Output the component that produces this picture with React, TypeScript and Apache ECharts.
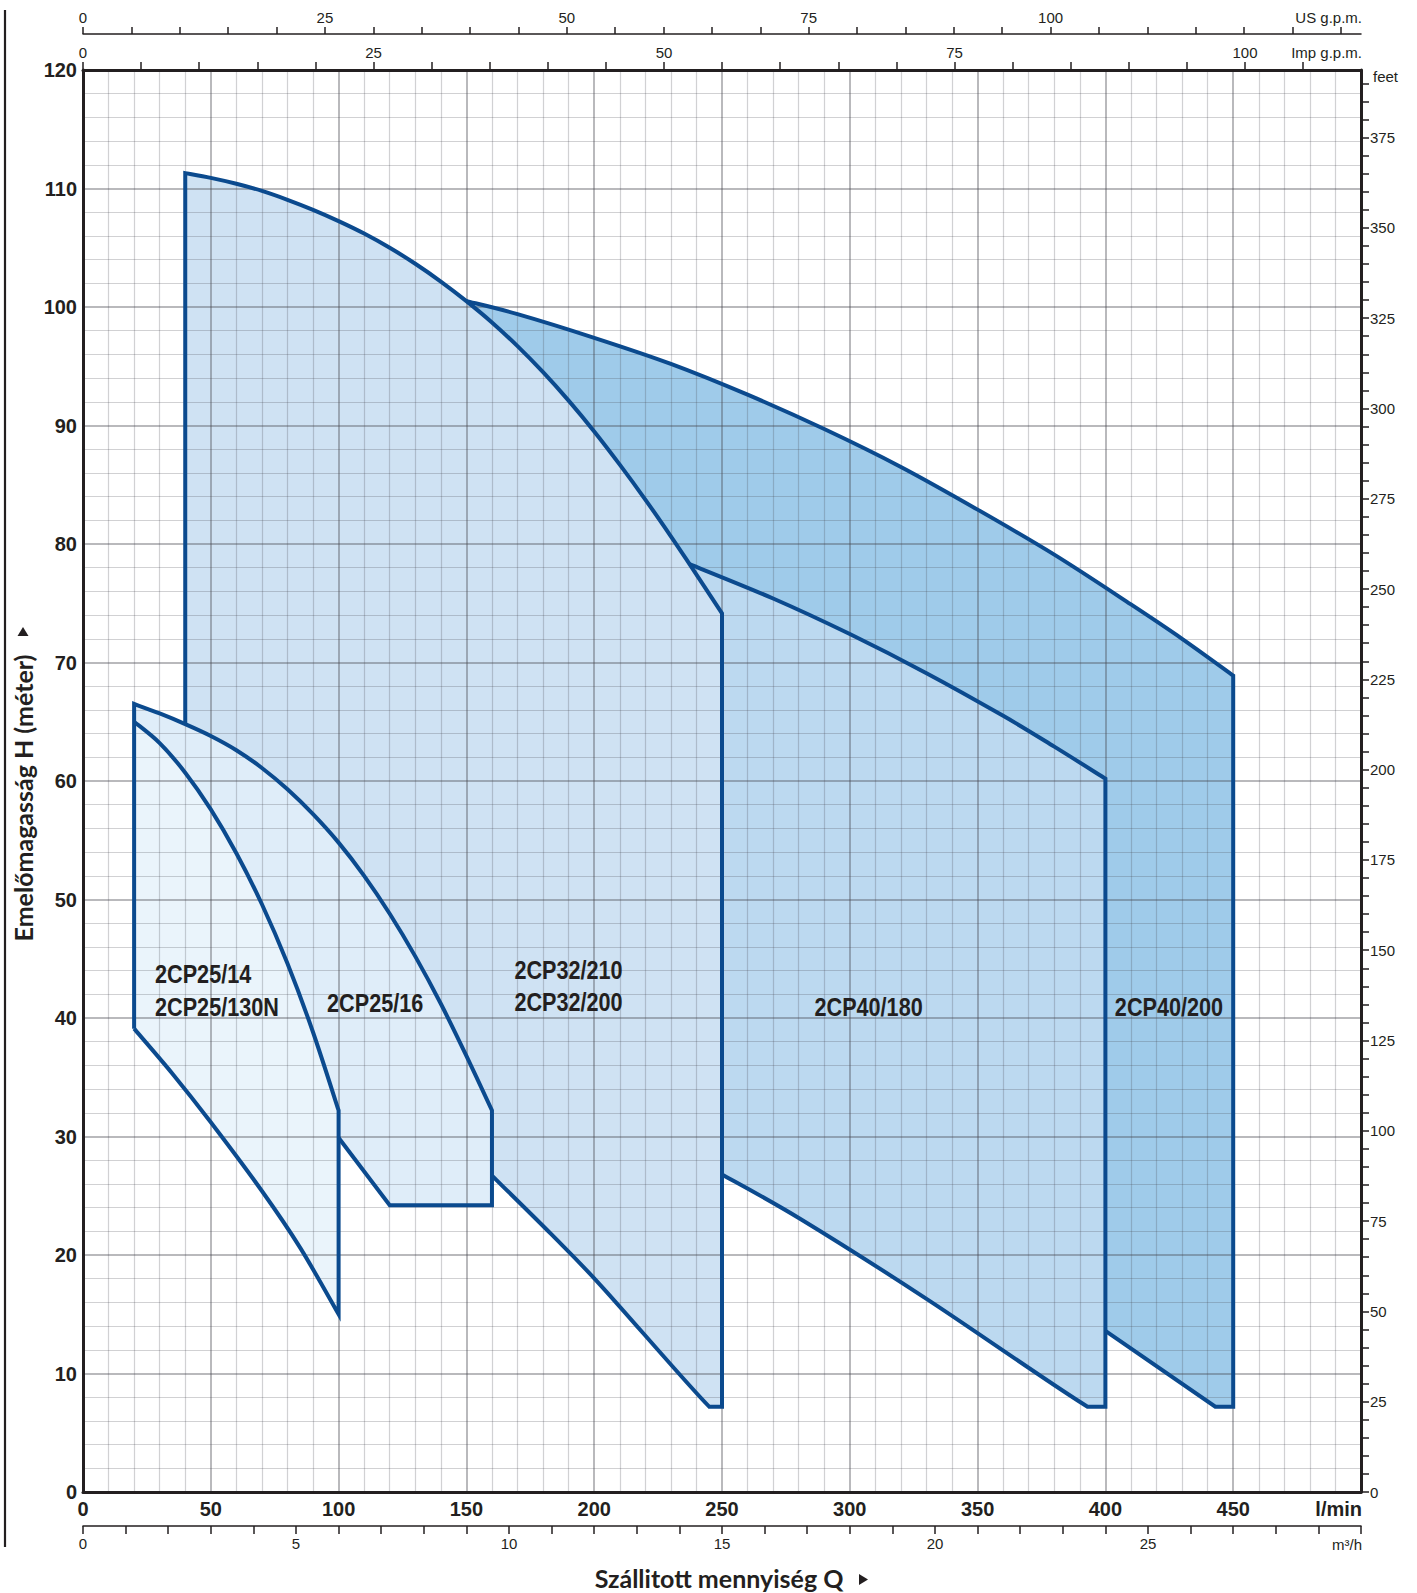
import React, { useEffect, useRef } from "react";
import * as echarts from "echarts";

const CHART_W = 1417;
const CHART_H = 1593;
const G_LEFT = 83;
const G_TOP = 70;
const G_RIGHT = 1361;
const G_BOTTOM = 1492;

const INK = "#231f20";
const BLUE = "#0b4a8e";
const MAJOR = "rgba(70,72,80,0.38)";
const MINOR = "rgba(70,72,80,0.25)";
const NUM_FONT = '"Liberation Sans", Arial, sans-serif';
const TITLE_FONT = 'Lato, "Noto Sans", sans-serif';

// ---- pump envelopes: [Q l/min, H m] ----
// 2CP25/14 - 2CP25/130N
const p2514Top = [[20, 65.0], [30, 63.2], [40, 60.7], [50, 57.6], [60, 53.9], [70, 49.6], [80, 44.6], [90, 38.8], [100, 32.2]];
const p2514Bottom = [[100, 15.0], [85, 20.6], [70, 25.4], [50, 31.2], [35, 35.3], [20, 39.1]];
// 2CP25/16
const p2516Top = [[20, 66.5], [30, 65.7], [40, 64.8], [50, 63.8], [60, 62.6], [70, 61.1], [80, 59.3], [90, 57.2], [100, 54.8], [110, 52.0], [120, 48.8], [130, 45.2], [140, 41.2], [150, 36.8], [160, 32.2]];
const p2516Bottom = [[160, 24.2], [120, 24.2], [100, 29.9]];
// 2CP32/210 - 2CP32/200
const p32Left = [[40, 64.8], [40, 111.3]];
const p32Top = [[40, 111.3], [50, 110.9], [60, 110.4], [70, 109.8], [80, 109.05], [90, 108.2], [100, 107.25], [110, 106.2], [120, 105.0], [130, 103.65], [140, 102.15], [150, 100.5], [160, 98.7], [170, 96.7], [180, 94.5], [190, 92.1], [200, 89.5], [210, 86.7], [220, 83.75], [230, 80.65], [237.3, 78.3], [250, 74.15]];
const p32Bottom = [[250, 7.2], [245, 7.2], [202.7, 17.4], [183, 21.8], [160, 26.7]];
// 2CP40/180
const p180Top = [[237.3, 78.3], [270, 75.4], [300, 72.4], [330, 69.1], [360, 65.5], [380, 62.9], [400, 60.2]];
const p180Bottom = [[400, 7.2], [393, 7.2], [330, 16.3], [281, 23.0], [250, 26.8]];
// 2CP40/200
const p200Top = [[150, 100.5], [170, 99.4], [200, 97.4], [230, 95.2], [260, 92.6], [290, 89.7], [320, 86.5], [350, 82.9], [380, 79.1], [410, 74.9], [430, 72.0], [450, 68.9]];
const p200Bottom = [[450, 7.2], [443, 7.2], [400, 13.6]];
// shared left edge of the 2CP25 envelopes
const p25Left = [[20, 39.1], [20, 66.5]];

// pump labels [Q, H, text]
const pumpLabels: [number, number, string][] = [
  [28.2, 43.7, "2CP25/14"],
  [28.2, 40.9, "2CP25/130N"],
  [95.5, 41.2, "2CP25/16"],
  [168.8, 44.0, "2CP32/210"],
  [168.8, 41.3, "2CP32/200"],
  [286.2, 40.9, "2CP40/180"],
  [403.7, 40.9, "2CP40/200"],
];

// tick labels
const lminLabels = [0, 50, 100, 150, 200, 250, 300, 350, 400, 450];
const meterLabels = [0, 10, 20, 30, 40, 50, 60, 70, 80, 90, 100, 110, 120];
const m3hLabels = [0, 5, 10, 15, 20, 25];
const impGpmLabels = [0, 25, 50, 75, 100];
const usGpmLabels = [0, 25, 50, 75, 100];
const feetLabels = [0, 25, 50, 75, 100, 125, 150, 175, 200, 225, 250, 275, 300, 325, 350, 375];

const range = (a: number, b: number, s: number) => {
  const r: number[] = [];
  for (let v = a; v <= b + 1e-9; v += s) r.push(Math.round(v * 1000) / 1000);
  return r;
};

type Seg = { pts: number[][]; from?: number; to?: number; smooth: boolean };
const seg = (pts: number[][], smooth: boolean, from?: number, to?: number): Seg => ({ pts, smooth, from, to });
const idx = (pts: number[][], q: number) => pts.findIndex((p) => Math.abs(p[0] - q) < 1e-6);
const last = (pts: number[][]) => pts.length - 1;

// Build an SVG path through data points converted by the chart's own scales.
function pathFor(segs: Seg[], api: any, close: boolean) {
  let d = "";
  const f = (v: number) => v.toFixed(2);
  segs.forEach((s, si) => {
    const px = s.pts.map((p) => api.coord(p));
    const from = s.from ?? 0;
    const to = s.to ?? px.length - 1;
    const dir = to >= from ? 1 : -1;
    const start = px[from];
    d += (si === 0 ? "M" : "L") + f(start[0]) + "," + f(start[1]);
    const clamp = (i: number) => Math.max(0, Math.min(px.length - 1, i));
    for (let a = from; a !== to; a += dir) {
      const b = a + dir;
      const p1 = px[a];
      const p2 = px[b];
      if (s.smooth) {
        const p0 = px[clamp(a - dir)];
        const p3 = px[clamp(b + dir)];
        const c1 = [p1[0] + (p2[0] - p0[0]) / 6, p1[1] + (p2[1] - p0[1]) / 6];
        const c2 = [p2[0] - (p3[0] - p1[0]) / 6, p2[1] - (p3[1] - p1[1]) / 6];
        d += "C" + f(c1[0]) + "," + f(c1[1]) + " " + f(c2[0]) + "," + f(c2[1]) + " " + f(p2[0]) + "," + f(p2[1]);
      } else {
        d += "L" + f(p2[0]) + "," + f(p2[1]);
      }
    }
  });
  if (close) d += "Z";
  return d;
}

// fill regions
const fill200: Seg[] = [
  seg(p200Top, true),
  seg(p200Bottom, false),
  seg(p180Top, true, last(p180Top), 0),
  seg(p32Top, true, idx(p32Top, 237.3), idx(p32Top, 150)),
];
const fill180: Seg[] = [
  seg(p180Top, true),
  seg(p180Bottom, false, 0, 1),
  seg(p180Bottom, true, 1, last(p180Bottom)),
  seg(p32Top, true, last(p32Top), idx(p32Top, 237.3)),
];
const fill32: Seg[] = [
  seg(p32Left, false),
  seg(p32Top, true),
  seg(p32Bottom, false, 0, 1),
  seg(p32Bottom, true, 1, last(p32Bottom)),
  seg(p2516Top, true, last(p2516Top), idx(p2516Top, 40)),
];
const fill2516: Seg[] = [seg(p2516Top, true), seg(p2516Bottom, false), seg(p2514Top, true, last(p2514Top), 0)];
const fill2514: Seg[] = [seg(p2514Top, true), seg(p2514Bottom, true)];

// outlines
const line2514: Seg[] = [seg(p2514Top, true), seg(p2514Bottom, true)];
const line2516: Seg[] = [seg(p25Left, false), seg(p2516Top, true), seg(p2516Bottom, false)];
const line32: Seg[] = [seg(p32Left, false), seg(p32Top, true), seg(p32Bottom, false, 0, 1), seg(p32Bottom, true, 1, last(p32Bottom))];
const line180: Seg[] = [seg(p180Top, true), seg(p180Bottom, false, 0, 1), seg(p180Bottom, true, 1, last(p180Bottom))];
const line200: Seg[] = [seg(p200Top, true), seg(p200Bottom, false)];

const baseCustom = {
  type: "custom",
  coordinateSystem: "cartesian2d",
  xAxisIndex: 0,
  yAxisIndex: 0,
  silent: true,
  clip: false,
};

const fillSeries = (segs: Seg[], color: string) => ({
  ...baseCustom,
  z: 1,
  data: [[segs[0].pts[0][0], segs[0].pts[0][1]]],
  renderItem: (_params: any, api: any) => ({
    type: "path",
    shape: { pathData: pathFor(segs, api, true) },
    style: { fill: color, stroke: "none" },
  }),
});

const strokeSeries = (segs: Seg[]) => ({
  ...baseCustom,
  z: 3,
  data: [[segs[0].pts[0][0], segs[0].pts[0][1]]],
  renderItem: (_params: any, api: any) => ({
    type: "path",
    shape: { pathData: pathFor(segs, api, false) },
    style: { fill: "none", stroke: BLUE, lineWidth: 4, lineJoin: "miter" },
  }),
});

const labelSeries = {
  ...baseCustom,
  z: 4,
  data: pumpLabels.map((l) => [l[0], l[1]]),
  renderItem: (params: any, api: any) => {
    const l = pumpLabels[params.dataIndex];
    const p = api.coord([l[0], l[1]]);
    return {
      type: "text",
      x: p[0],
      y: p[1],
      scaleX: 0.865,
      style: {
        text: l[2],
        fill: INK,
        font: `bold 25px ${NUM_FONT}`,
        textAlign: "left",
        textVerticalAlign: "middle",
      },
    };
  },
};

const smallLabel = { fontFamily: NUM_FONT, fontSize: 15, color: INK };

function buildOption(): any {
  return {
    animation: false,
    backgroundColor: "#ffffff",
    grid: {
      left: G_LEFT,
      top: G_TOP,
      width: G_RIGHT - G_LEFT,
      height: G_BOTTOM - G_TOP,
      containLabel: false,
      outerBoundsMode: "none",
    },
    xAxis: [
      {
        type: "value",
        position: "bottom",
        min: 0,
        max: 500,
        interval: 50,
        z: 2,
        axisLine: { show: true, onZero: false, lineStyle: { color: INK, width: 3 } },
        axisTick: { show: false },
        axisLabel: {
          fontFamily: NUM_FONT,
          fontSize: 20,
          fontWeight: "bold",
          color: INK,
          margin: 7,
          formatter: (v: number) => (lminLabels.includes(v) ? String(v) : ""),
        },
        splitLine: { show: true, lineStyle: { color: MAJOR, width: 2 } },
        minorTick: { show: false, splitNumber: 5 },
        minorSplitLine: { show: true, lineStyle: { color: MINOR, width: 1.2 } },
      },
      {
        type: "value",
        position: "bottom",
        offset: 34,
        min: 0,
        max: 30,
        interval: 1,
        z: 2,
        axisLine: { show: true, onZero: false, lineStyle: { color: INK, width: 1.5 } },
        axisTick: { show: true, length: 8, customValues: range(0, 30, 1), lineStyle: { color: INK, width: 1.5 } },
        axisLabel: { ...smallLabel, margin: 10, customValues: m3hLabels },
        splitLine: { show: false },
      },
      {
        type: "value",
        position: "top",
        min: 0,
        max: 500 / 4.54609,
        interval: 5,
        z: 2,
        axisLine: { show: true, onZero: false, lineStyle: { color: INK, width: 3 } },
        axisTick: { show: true, length: 8, customValues: range(0, 105, 5), lineStyle: { color: INK, width: 1.5 } },
        axisLabel: { ...smallLabel, margin: 10, customValues: impGpmLabels },
        splitLine: { show: false },
      },
      {
        type: "value",
        position: "top",
        offset: 36,
        min: 0,
        max: 500 / 3.785411784,
        interval: 5,
        z: 2,
        axisLine: { show: true, onZero: false, lineStyle: { color: INK, width: 1.5 } },
        axisTick: { show: true, length: 7, customValues: range(0, 130, 5), lineStyle: { color: INK, width: 1.5 } },
        axisLabel: { ...smallLabel, margin: 9, customValues: usGpmLabels },
        splitLine: { show: false },
      },
    ],
    yAxis: [
      {
        type: "value",
        position: "left",
        min: 0,
        max: 120,
        interval: 10,
        z: 2,
        axisLine: { show: true, onZero: false, lineStyle: { color: INK, width: 3 } },
        axisTick: { show: false },
        axisLabel: {
          fontFamily: NUM_FONT,
          fontSize: 20,
          fontWeight: "bold",
          color: INK,
          margin: 6,
          formatter: (v: number) => (meterLabels.includes(v) ? String(v) : ""),
        },
        splitLine: { show: true, lineStyle: { color: MAJOR, width: 2 } },
        minorTick: { show: false, splitNumber: 5 },
        minorSplitLine: { show: true, lineStyle: { color: MINOR, width: 1.2 } },
      },
      {
        type: "value",
        position: "right",
        min: 0,
        max: 120 * 3.28084,
        interval: 5,
        z: 2,
        axisLine: { show: true, onZero: false, lineStyle: { color: INK, width: 3 } },
        axisTick: { show: true, length: 8, customValues: range(0, 390, 5), lineStyle: { color: INK, width: 1.5 } },
        axisLabel: { ...smallLabel, margin: 9, customValues: feetLabels },
        splitLine: { show: false },
      },
    ],
    graphic: [
      { type: "line", shape: { x1: 5, y1: 10, x2: 5, y2: 1547 }, style: { stroke: INK, lineWidth: 2.2 } },
      {
        type: "text",
        x: G_RIGHT + 1,
        y: G_BOTTOM + 17,
        style: { text: "l/min", font: `bold 20px ${NUM_FONT}`, fill: INK, textAlign: "right", textVerticalAlign: "middle" },
      },
      {
        type: "text",
        x: G_RIGHT + 1,
        y: G_BOTTOM + 52,
        style: { text: "m³/h", font: `15px ${NUM_FONT}`, fill: INK, textAlign: "right", textVerticalAlign: "middle" },
      },
      {
        type: "text",
        x: G_RIGHT + 1,
        y: G_TOP - 18,
        style: { text: "Imp g.p.m.", font: `15px ${NUM_FONT}`, fill: INK, textAlign: "right", textVerticalAlign: "middle" },
      },
      {
        type: "text",
        x: G_RIGHT + 1,
        y: G_TOP - 53,
        style: { text: "US g.p.m.", font: `15px ${NUM_FONT}`, fill: INK, textAlign: "right", textVerticalAlign: "middle" },
      },
      {
        type: "text",
        x: G_RIGHT + 12,
        y: G_TOP + 6,
        style: { text: "feet", font: `15px ${NUM_FONT}`, fill: INK, textAlign: "left", textVerticalAlign: "middle" },
      },
      {
        type: "text",
        x: 719,
        y: 1578,
        style: { text: "Szállitott mennyiség Q", font: `bold 25px ${TITLE_FONT}`, fill: INK, textAlign: "center", textVerticalAlign: "middle" },
      },
      { type: "polygon", shape: { points: [[859, 1574], [868, 1579.5], [859, 1585]] }, style: { fill: INK } },
      {
        type: "text",
        x: 23,
        y: 798,
        rotation: Math.PI / 2,
        style: { text: "Emelőmagasság H (méter)", font: `bold 25px ${TITLE_FONT}`, fill: INK, textAlign: "center", textVerticalAlign: "middle" },
      },
      { type: "polygon", shape: { points: [[17.5, 636], [23, 627], [28.5, 636]] }, style: { fill: INK } },
    ],
    series: [
      fillSeries(fill200, "#9fcbea"),
      fillSeries(fill180, "#bcd9f0"),
      fillSeries(fill32, "#cfe2f3"),
      fillSeries(fill2516, "#dfedf9"),
      fillSeries(fill2514, "#eaf4fb"),
      strokeSeries(line200),
      strokeSeries(line180),
      strokeSeries(line32),
      strokeSeries(line2516),
      strokeSeries(line2514),
      labelSeries,
    ],
  };
}

export default function App() {
  const ref = useRef<HTMLDivElement>(null);
  useEffect(() => {
    if (!ref.current) return;
    const chart = echarts.init(ref.current, null, { renderer: "svg" });
    chart.setOption(buildOption());
    return () => chart.dispose();
  }, []);
  return (
    <div
      ref={ref}
      style={{ position: "absolute", left: 0, top: 0, width: CHART_W, height: CHART_H, background: "#ffffff" }}
    />
  );
}
